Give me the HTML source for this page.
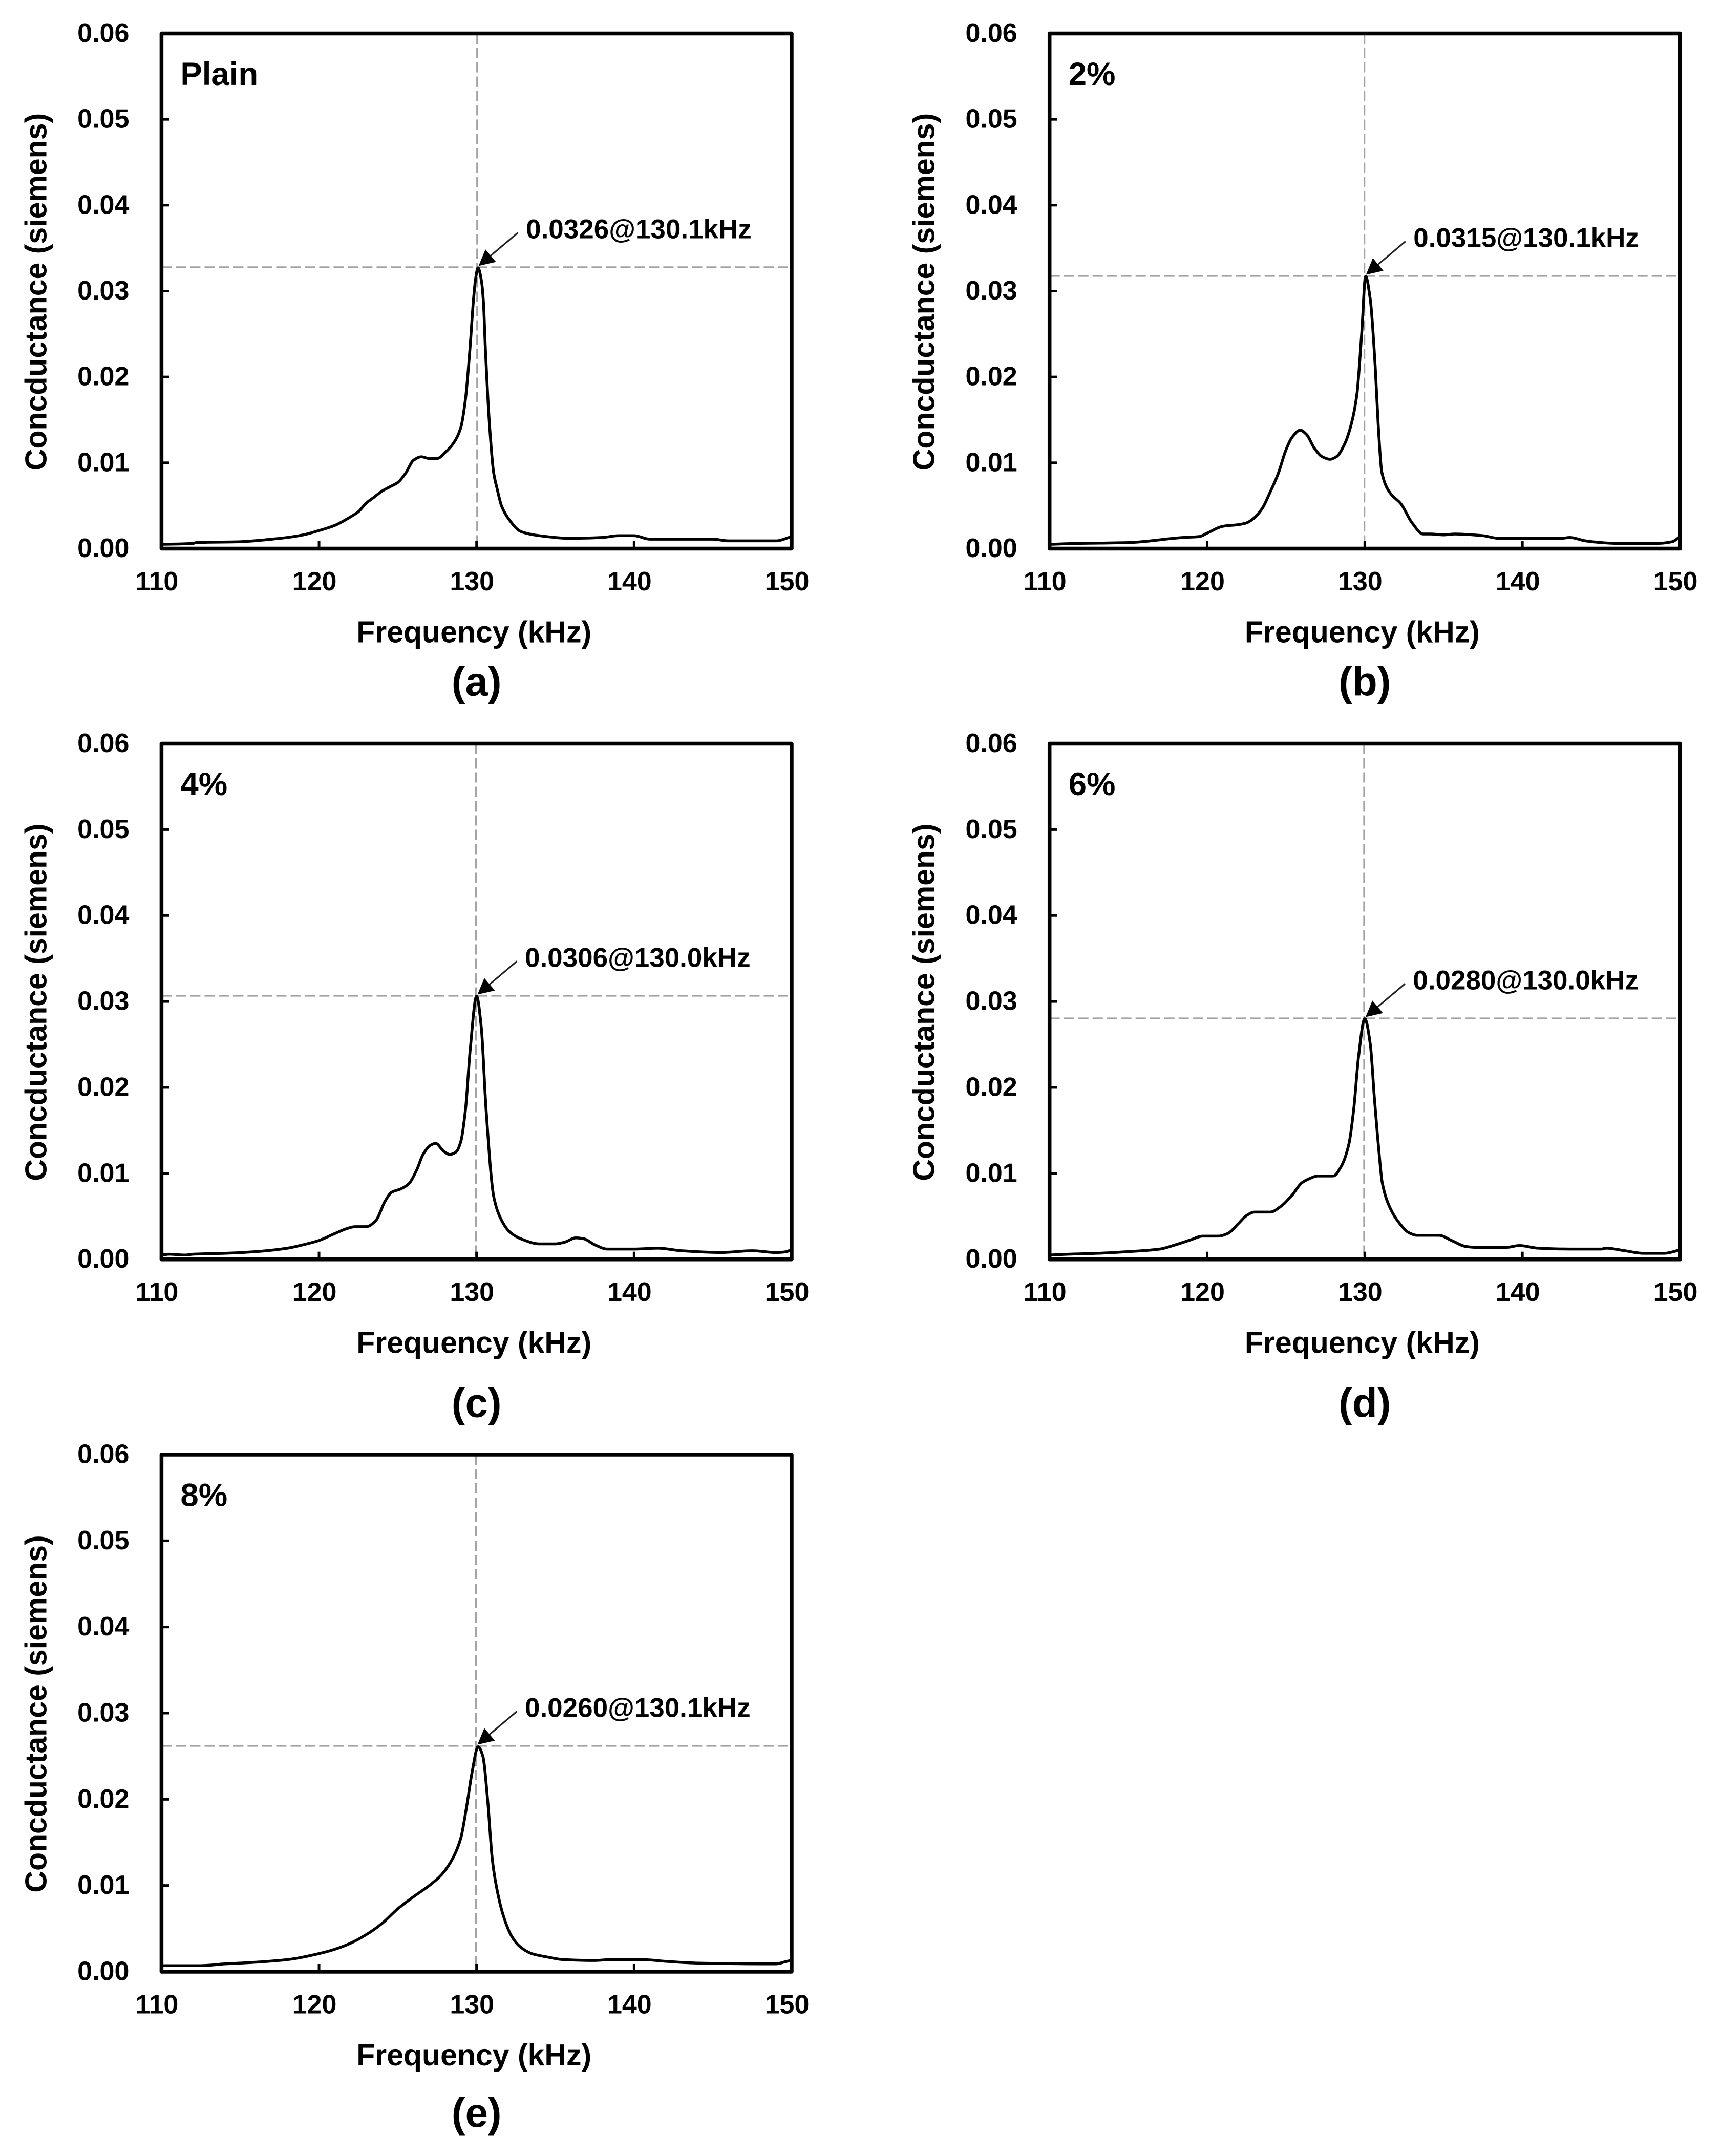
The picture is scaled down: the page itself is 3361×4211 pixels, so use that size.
<!DOCTYPE html>
<html lang="en">
<head>
<meta charset="utf-8">
<title>Conductance vs frequency</title>
<style>
html,body{margin:0;padding:0;background:#fff;}
svg{display:block;}
text{font-family:"Liberation Sans",Arial,sans-serif;font-weight:bold;fill:#000;}
</style>
</head>
<body>
<svg id="figure" xmlns="http://www.w3.org/2000/svg" width="3361" height="4211" viewBox="0 0 3361 4211"></svg>
<script>
const yTickValues = [0, 0.01, 0.02, 0.03, 0.04, 0.05, 0.06];
const yTickLabels = ["0.00", "0.01", "0.02", "0.03", "0.04", "0.05", "0.06"];
const xTickValues = [110, 120, 130, 140, 150];
const xTickLabels = ["110", "120", "130", "140", "150"];

const freqA = [110,112,112.2,115,117,118,119,120,121,122,122.5,123,123.5,124,124.5,125,125.5,126,126.5,127,127.5,128,128.5,129,129.3,129.58,129.8,129.93,130.09,130.3,130.43,130.56,130.8,131.08,131.3,131.6,132.1,132.8,134,136,138,139,140,141,145,146,149,150];
const condA = [.0005,.0006,.0007,.0008,.0011,.0013,.0016,.0021,.0027,.0037,.0043,.0053,.006,.0067,.0072,.0077,.0088,.0103,.0107,.0105,.0105,.0112,.0122,.0141,.0175,.0233,.0289,.0313,.0327,.0313,.0289,.0233,.0150,.0089,.0070,.0049,.0033,.002,.0015,.0012,.0013,.0015,.0015,.0011,.0011,.0009,.0009,.0014];

const freqB = [110,111.7,115,118.5,119.5,120,121,122,122.5,123,123.5,124,124.5,125,125.4,125.9,126.3,126.8,127.3,127.8,128.2,128.7,129.1,129.5,129.8,130.05,130.35,130.66,130.85,131.08,131.6,132.3,133,133.7,134.2,135,135.7,137.5,138.5,140,141,142.5,143,144,145,146,148.5,149.5,150];
const condB = [.0005,.0006,.0007,.0013,.0014,.0018,.0026,.0028,.003,.0036,.0047,.0066,.0087,.0115,.013,.0138,.0133,.0117,.0107,.0104,.0107,.0121,.0142,.018,.025,.0317,.029,.0212,.0145,.0089,.0065,.0052,.003,.0017,.0017,.0016,.0017,.0015,.0012,.0012,.0012,.0012,.0013,.0009,.0007,.0006,.0006,.0008,.0014];

const freqC = [110,110.5,111.5,112,114,116,118,119,120,121,121.8,122.3,123,123.6,124.2,124.6,125.2,125.7,126.2,126.6,127.1,127.4,127.9,128.3,128.7,129,129.3,129.6,130,130.3,130.6,131.1,131.6,132.1,132.8,134,135,135.6,136.3,136.8,137.5,138.3,140,141.5,143,145.5,147.5,149,149.7,150];
const condC = [.0005,.0006,.0005,.0006,.0007,.0009,.0013,.0017,.0022,.003,.0036,.0038,.0038,.0045,.0068,.0078,.0082,.0088,.0104,.0122,.0133,.0135,.0126,.0122,.0125,.0137,.0175,.0245,.0306,.027,.0175,.0072,.0045,.0032,.0024,.0018,.0018,.002,.0025,.0024,.0017,.0012,.0012,.0013,.001,.0008,.001,.0008,.0009,.0012];

const freqD = [110,111.2,113,115,117,118,119,119.7,120.7,121.3,122,122.5,123,124,124.7,125.4,126,126.5,127,128,128.5,129,129.3,129.6,130,130.35,130.6,130.9,131.1,131.6,132.2,132.8,133.3,134.7,135.5,136.4,137,139,139.8,141,143,145,145.3,146.5,147.7,149,150];
const condD = [.0005,.0006,.0007,.0009,.0012,.0017,.0023,.0027,.0027,.003,.0042,.0051,.0055,.0055,.0062,.0075,.0089,.0094,.0097,.0097,.0108,.0135,.0175,.0235,.028,.025,.019,.0125,.009,.006,.0042,.0031,.0028,.0028,.0022,.0015,.0014,.0014,.0016,.0013,.0012,.0012,.0013,.001,.0007,.0007,.0011];

const freqE = [110,112.5,114,116,118,120,121,122,123,124,125,126,127,127.8,128.5,129,129.4,129.7,130.1,130.4,130.7,131,131.3,131.7,132.2,132.7,133.5,134.5,135.5,137.5,138.5,140.5,142,144,149,149.7,150];
const condE = [.0007,.0007,.0009,.0011,.0014,.0021,.0026,.0033,.0043,.0056,.0073,.0087,.01,.0113,.0132,.0155,.0195,.023,.0261,.025,.02,.013,.0095,.0065,.0042,.003,.0021,.0017,.0014,.0013,.0014,.0014,.0012,.001,.0009,.0012,.0013];

const guideFreqs = [130.03, 129.98, 129.96, 129.95, 129.96];
const guideConds = [.03278, .03176, .03066, .02804, .0262];
const peakLabels = ["0.0326@130.1kHz", "0.0315@130.1kHz", "0.0306@130.0kHz", "0.0280@130.0kHz", "0.0260@130.1kHz"];
const sampleLabels = ["Plain", "2%", "4%", "6%", "8%"];
const panelLetters = ["(a)", "(b)", "(c)", "(d)", "(e)"];
const seriesFreqs = [freqA, freqB, freqC, freqD, freqE];
const seriesConds = [condA, condB, condC, condD, condE];

const panelBoxes = [
  {left: 315.4, right: 1546, top: 65.5, bottom: 1071.5, cap: 287},
  {left: 2049.7, right: 3281, top: 65.5, bottom: 1071.5, cap: 287},
  {left: 315.4, right: 1546, top: 1452.5, bottom: 2459.7, cap: 308},
  {left: 2049.7, right: 3281, top: 1452.5, bottom: 2459.7, cap: 308},
  {left: 315.4, right: 1546, top: 2841, bottom: 3851, cap: 303}
];

const SVGNS = "http://www.w3.org/2000/svg";
const figure = document.getElementById("figure");

function mk(parent, tag, attrs, content) {
  const el = document.createElementNS(SVGNS, tag);
  for (const k in attrs) el.setAttribute(k, attrs[k]);
  if (content !== undefined) el.textContent = content;
  parent.appendChild(el);
  return el;
}

// Monotone cubic path through the scaled points
function smoothPath(xs, ys) {
  const n = xs.length;
  const d = [];
  for (let i = 0; i < n - 1; i++) d.push((ys[i + 1] - ys[i]) / (xs[i + 1] - xs[i]));
  const m = new Array(n);
  m[0] = d[0];
  m[n - 1] = d[n - 2];
  for (let i = 1; i < n - 1; i++) {
    if (d[i - 1] * d[i] <= 0) {
      m[i] = 0;
    } else {
      const h0 = xs[i] - xs[i - 1];
      const h1 = xs[i + 1] - xs[i];
      const w0 = 2 * h1 + h0;
      const w1 = h1 + 2 * h0;
      m[i] = (w0 + w1) / (w0 / d[i - 1] + w1 / d[i]);
    }
  }
  let path = "M" + xs[0].toFixed(1) + " " + ys[0].toFixed(1);
  for (let i = 0; i < n - 1; i++) {
    const h = (xs[i + 1] - xs[i]) / 3;
    path += "C" + (xs[i] + h).toFixed(1) + " " + (ys[i] + m[i] * h).toFixed(1) + " " +
      (xs[i + 1] - h).toFixed(1) + " " + (ys[i + 1] - m[i + 1] * h).toFixed(1) + " " +
      xs[i + 1].toFixed(1) + " " + ys[i + 1].toFixed(1);
  }
  return path;
}

function drawPanel(i) {
  const box = panelBoxes[i];
  const xScale = f => box.left + (f - 110) / 40 * (box.right - box.left);
  const yScale = v => box.bottom - v / 0.06 * (box.bottom - box.top);
  const letter = "abcde"[i];

  const g = mk(figure, "g", {});
  
  

  // guide lines
  const gx = xScale(guideFreqs[i]);
  const gy = yScale(guideConds[i]);
  const vGuide = mk(g, "line", {x1: gx, x2: gx, y1: box.top, y2: box.bottom, stroke: "#a3a3a3", "stroke-width": 3, "stroke-dasharray": "20 8"});
  
  
  const hGuide = mk(g, "line", {x1: box.left, x2: box.right - 8, y1: gy, y2: gy, stroke: "#a3a3a3", "stroke-width": 3.2, "stroke-dasharray": "20 8"});
  
  

  // curve
  const fs = seriesFreqs[i];
  const vs = seriesConds[i];
  const curve = mk(g, "path", {d: smoothPath(fs.map(xScale), vs.map(yScale)), fill: "none", stroke: "#000", "stroke-width": 5.5, "stroke-linejoin": "round", "stroke-linecap": "round"});
  
  

  // frame
  const frame = mk(g, "rect", {x: box.left, y: box.top, width: box.right - box.left, height: box.bottom - box.top, fill: "none", stroke: "#000", "stroke-width": 7.5, "stroke-linejoin": "round"});
  
  

  // y ticks
  yTickValues.forEach((v, j) => {
    const y = yScale(v);
    const tick = mk(g, "line", {x1: box.left, x2: box.left + 15, y1: y, y2: y, stroke: "#000", "stroke-width": 5});
    
    
    const lab = mk(g, "text", {x: box.left - 63, y: y + 16.5, "text-anchor": "end", "font-size": 52}, yTickLabels[j]);
    
    
  });

  // x ticks
  xTickValues.forEach((v, j) => {
    const x = xScale(v);
    const tick = mk(g, "line", {x1: x, x2: x, y1: box.bottom, y2: box.bottom - 15, stroke: "#000", "stroke-width": 5});
    
    
    const lab = mk(g, "text", {x: x - 9, y: box.bottom + 81.5, "text-anchor": "middle", "font-size": 52}, xTickLabels[j]);
    
    
  });

  // axis titles
  const midX = (box.left + box.right) / 2;
  const midY = (box.top + box.bottom) / 2;
  const xTitle = mk(g, "text", {x: midX - 5, y: box.bottom + 183, "text-anchor": "middle", "font-size": 59}, "Frequency (kHz)");
  
  
  const yx = box.left - 225;
  const yy = midY + 1.5;
  const yTitle = mk(g, "text", {x: yx, y: yy, "text-anchor": "middle", "font-size": 59, transform: "rotate(-90 " + yx + " " + yy + ")"}, "Concductance (siemens)");
  
  

  // sample label
  const sample = mk(g, "text", {x: box.left + 37, y: box.top + 100.5, "font-size": 63.5}, sampleLabels[i]);
  
  

  // peak annotation
  const tipX = gx + 3;
  const tipY = gy - 2.5;
  const startX = tipX + 77;
  const startY = tipY - 65;
  const len = Math.hypot(startX - tipX, startY - tipY);
  const ux = (startX - tipX) / len;
  const uy = (startY - tipY) / len;
  const baseX = tipX + ux * 31;
  const baseY = tipY + uy * 31;
  const shaft = mk(g, "line", {x1: startX, y1: startY, x2: baseX, y2: baseY, stroke: "#222", "stroke-width": 3.2});
  
  
  const head = [
    tipX + "," + tipY,
    (baseX - uy * 16) + "," + (baseY + ux * 16),
    (baseX + uy * 16) + "," + (baseY - ux * 16)
  ].join(" ");
  const arrow = mk(g, "polygon", {points: head, fill: "#000"});
  
  
  const peak = mk(g, "text", {x: tipX + 92.5, y: tipY - 54, "font-size": 53}, peakLabels[i]);
  
  

  // panel caption
  const cap = mk(g, "text", {x: midX, y: box.bottom + box.cap, "text-anchor": "middle", "font-size": 80}, panelLetters[i]);
  
  
}

panelBoxes.forEach((b, i) => drawPanel(i));
</script>
</body>
</html>
